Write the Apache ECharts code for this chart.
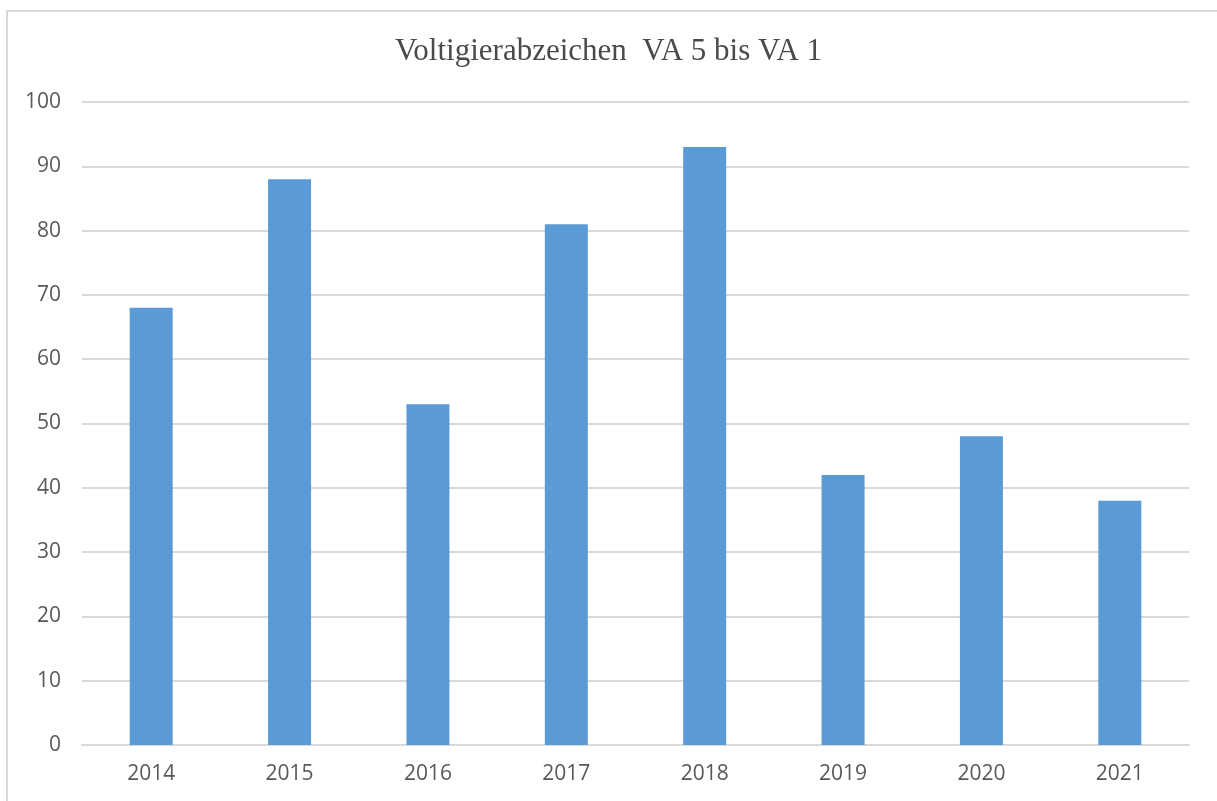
<!DOCTYPE html>
<html>
<head>
<meta charset="utf-8">
<script src="https://cdn.jsdelivr.net/npm/echarts@6/dist/echarts.min.js"></script>
<style>
html,body{margin:0;padding:0;background:#fff;}
#chart{width:1217px;height:801px;}
</style>
</head>
<body>
<div id="chart"></div>
<script>
// data
var years = ['2014','2015','2016','2017','2018','2019','2020','2021'];
var counts = [68, 88, 53, 81, 93, 42, 48, 38];
var titleText = 'Voltigierabzeichen  VA 5 bis VA 1';

var myChart = echarts.init(document.getElementById('chart'));
var option = {
  backgroundColor: '#fff',
  animation: false,
  title: {
    text: titleText,
    left: 'center',
    top: 31,
    textStyle: {
      fontFamily: 'Liberation Serif',
      fontWeight: 'normal',
      fontSize: 31,
      color: '#4a4a4a'
    }
  },
  graphic: [{
    type: 'rect',
    shape: {x: 7, y: 11, width: 1240, height: 820},
    style: {fill: 'none', stroke: '#d9d9d9', lineWidth: 2},
    silent: true
  }],
  grid: {left: 82, right: 28, top: 102, bottom: 56},
  xAxis: {
    type: 'category',
    data: years,
    axisLine: {lineStyle: {color: '#d9d9d9', width: 2}},
    axisTick: {show: false},
    axisLabel: {
      color: '#595959',
      fontFamily: 'Open Sans',
      fontSize: 21,
      margin: 19
    }
  },
  yAxis: {
    type: 'value',
    min: 0,
    max: 100,
    interval: 10,
    axisLine: {show: false},
    axisTick: {show: false},
    splitLine: {lineStyle: {color: '#d9d9d9', width: 2}},
    axisLabel: {
      color: '#595959',
      fontFamily: 'Open Sans',
      fontSize: 21,
      margin: 21
    }
  },
  series: [{
    type: 'bar',
    data: counts,
    barWidth: 43,
    itemStyle: {color: '#5b9bd5'}
  }]
};
myChart.setOption(option);
</script>
</body>
</html>
